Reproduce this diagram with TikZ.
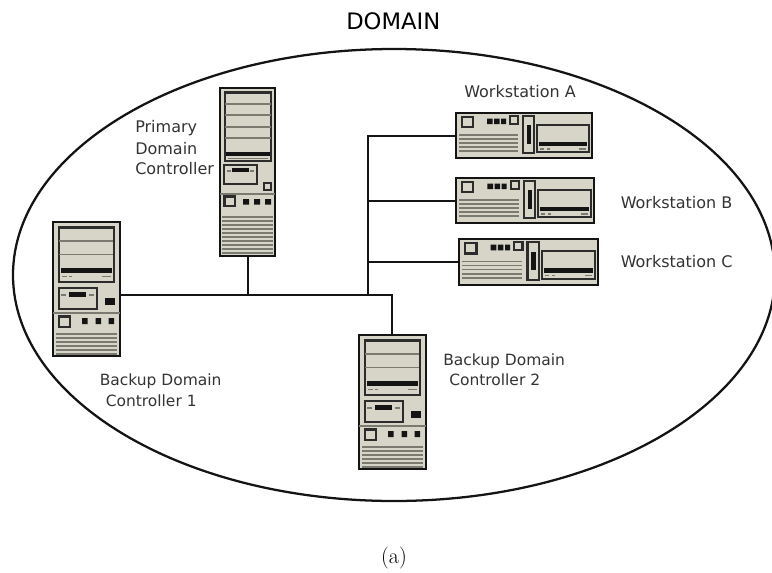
\documentclass[tikz,border=0pt]{standalone}
\usepackage{fontspec}
\setmainfont{DejaVu Sans}
\newfontfamily\lmfont{Latin Modern Roman}
\definecolor{case}{HTML}{D6D5C8}
\definecolor{ink}{HTML}{141414}
\definecolor{vent}{HTML}{7A7A70}
\tikzset{
  x=0.75pt,y=-0.75pt,
  unit/.style={draw=ink,fill=case,line width=2.2pt,inner sep=0pt,outer sep=0pt,anchor=north west},
  part/.style={draw=ink!90,line width=1.8pt,fill=case},
  thinpart/.style={draw=ink,line width=1.1pt,fill=case},
  solid dark/.style={fill=ink,draw=none},
  ventline/.style={draw=vent,line width=1.25pt},
  seam/.style={draw=vent,line width=1.2pt},
  wire/.style={draw=ink,line width=2pt},
  heavy wire/.style={draw=ink,line width=2.1pt},
  lbl/.style={text=black!80,font=\fontsize{12}{14}\selectfont,inner sep=0pt,anchor=base west},
  lblb/.style={lbl,font=\fontsize{11.6}{14}\selectfont},
}
% wide tower, local size 69 x 136
\newcommand{\widetower}[3]{%
  \node[unit,minimum width=50.25pt,minimum height=100.5pt] (#1) at (#2+1,#3+1) {};
  \begin{scope}[shift={(#2,#3)}]
    \draw[part] (6.7,6.3) rectangle (61.7,60.7);
    \draw[seam] (7,19.7) -- (61,19.7) (7,33.3) -- (61,33.3);
    \fill[solid dark] (9,46.5) rectangle (60,51.5);
    \draw[seam] (10,55.5) -- (15,55.5) (17,55.5) -- (20,55.5) (50,55.5) -- (59,55.5);
    \draw[part] (6.7,67) rectangle (45,88);
    \fill[solid dark] (17,71) rectangle (34,75.5);
    \draw[seam,line width=0.8pt] (9,74) -- (14,74) (37,74) -- (42,74);
    \draw[thinpart,fill=ink] (54,78) rectangle (62,83);
    \draw[seam] (1,92) -- (68,92);
    \draw[part] (6.7,95.5) rectangle (17.7,106);
    \fill[solid dark] (30,97) rectangle (35.5,103) (43.5,97) rectangle (49,103) (56.7,97) rectangle (62,103);
    \foreach \v in {113,117,121,125,129,133} \draw[ventline] (4,\v) -- (65,\v);
  \end{scope}
}
% tall tower, local size 57 x 170
\newcommand{\talltower}[3]{%
  \node[unit,minimum width=41.25pt,minimum height=126pt] (#1) at (#2+1,#3+1) {};
  \begin{scope}[shift={(#2,#3)}]
    \draw[part] (5.7,5.6) rectangle (52,74);
    \foreach \v in {17,28,40,51} \draw[seam] (6,\v) -- (51.5,\v);
    \fill[solid dark] (7,64.5) rectangle (51,69);
    \draw[seam] (9,71.5) -- (49,71.5);
    \draw[part] (5,78) rectangle (38,97);
    \fill[solid dark] (13,81) rectangle (30,85);
    \draw[seam,line width=0.8pt] (8,84) -- (12,84) (31,84) -- (35,84);
    \draw[part] (45,96) rectangle (52,103);
    \draw[seam] (1,107) -- (56,107);
    \draw[part] (5.5,109.5) rectangle (16,119);
    \fill[solid dark] (24,112) rectangle (30,117.5) (35,112) rectangle (41,117.5) (46,112) rectangle (52,117.5);
    \foreach \v in {130,134,138,142,146,150,154,158,162,166} \draw[ventline] (3,\v) -- (54,\v);
  \end{scope}
}
% desktop, local size 138 x 47 scaled to #4 x #5
\newcommand{\desktop}[5]{%
  \node[unit,minimum width=#4*0.75pt-1.5pt,minimum height=#5*0.75pt-1.5pt] (#1) at (#2+1,#3+1) {};
  \begin{scope}[shift={(#2,#3)},xscale=#4/138,yscale=#5/47]
    \draw[part] (7,5) rectangle (18,15);
    \fill[solid dark] (32,6.5) rectangle (37.5,12) (39,6.5) rectangle (44.5,12) (46,6.5) rectangle (51,12);
    \draw[part] (55,4) rectangle (63,12);
    \draw[part] (68,4) rectangle (79,41);
    \draw[thinpart,fill=ink] (72.5,14) rectangle (75.5,31);
    \draw[part] (82,13) rectangle (134,40);
    \fill[solid dark] (84,29.5) rectangle (132,34);
    \draw[seam,line width=0.8pt] (85,37) -- (89,37) (92,37) -- (95,37) (124,37) -- (131,37);
    \foreach \v in {23,27,31,35,39} \draw[ventline] (4,\v) -- (63,\v);
  \end{scope}
}
\begin{document}
\begin{tikzpicture}
\useasboundingbox (0,0) rectangle (772,572);
\begin{scope}
  \clip (0,0) rectangle (772,572);
  \draw[draw=ink,line width=1.7pt] (394,275) ellipse [x radius=285.75pt,y radius=169.5pt];
\end{scope}

\coordinate (busa) at (248,295);
\coordinate (busb) at (368,295);
\coordinate (busc) at (392,295);
\coordinate (ja) at (368,136);
\coordinate (jb) at (368,201);
\coordinate (jc) at (368,262);

\widetower{pc1}{52}{221}
\talltower{pdc}{219}{87}
\widetower{pc2}{358}{334}
\desktop{wsa}{455}{112}{138}{47}
\desktop{wsb}{455}{177}{140}{47}
\desktop{wsc}{458}{238}{141}{48}

\draw[heavy wire] (pc1.east |- busb) -- (busb);
\draw[wire] (busb) -- (busc) -- (pc2.north -| busc);
\draw[heavy wire] (pdc.south -| busa) -- (busa);
\draw[wire] (busb) -- (ja) -- (wsa.west |- ja);
\draw[wire] (jb) -- (wsb.west |- jb);
\draw[wire] (jc) -- (wsc.west |- jc);

\node[lbl,font=\fontsize{17}{20}\selectfont,text=black] (title) at (346,29.5) {DOMAIN};
\node[lbl] (lwa) at (464,97.7) {Workstation A};
\node[lbl] (lwb) at (620.5,208) {Workstation B};
\node[lbl] (lwc) at (620.5,267.7) {Workstation C};
\node[lbl] (lp1) at (135,132.7) {Primary};
\node[lbl] (lp2) at (135,154) {Domain};
\node[lbl] (lp3) at (135,174) {Controller};
\node[lblb] (lb1) at (99.5,385.7) {Backup Domain};
\node[lblb] (lb1b) at (105.5,406) {Controller 1};
\node[lblb] (lb2) at (443,365) {Backup Domain};
\node[lblb] (lb2b) at (449,385) {Controller 2};
\node[inner sep=0pt,text=black] (cap) at (394,558) {\lmfont\fontsize{16.5}{20}\selectfont (a)};
\end{tikzpicture}
\end{document}
